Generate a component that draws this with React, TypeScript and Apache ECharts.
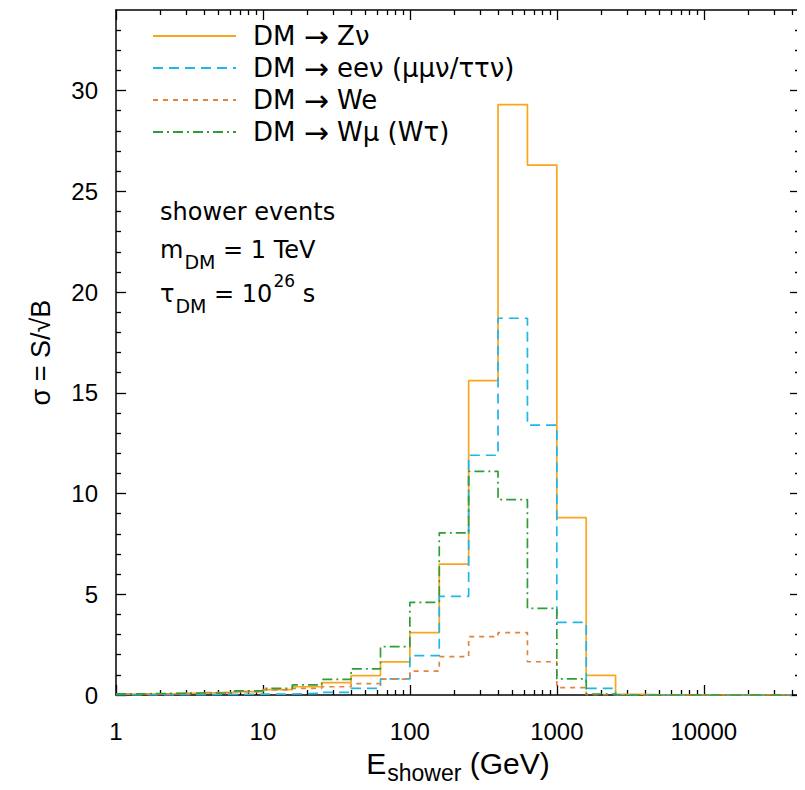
import React, { useEffect, useRef } from "react";
import * as echarts from "echarts";

// log10(E / GeV) bin edges of the histogram
const binLogEdges = [0, 0.2, 0.4, 0.6, 0.8, 1.0, 1.2, 1.4, 1.6, 1.8, 2.0, 2.2, 2.4, 2.6, 2.8, 3.0, 3.2, 3.4, 3.6, 3.8, 4.0, 4.2, 4.4, 4.6];

const seriesNames = ["DM → Zν", "DM → eeν (μμν/ττν)", "DM → We", "DM → Wμ (Wτ)"];

// sigma = S/sqrt(B) per bin
const zNu = [0.05, 0.07, 0.1, 0.13, 0.17, 0.27, 0.41, 0.61, 0.96, 1.64, 3.1, 6.5, 15.6, 29.3, 26.3, 8.8, 0.97, 0.03, 0, 0, 0, 0, 0];
const eeNu = [0.01, 0.01, 0.02, 0.03, 0.04, 0.05, 0.08, 0.13, 0.33, 0.8, 1.95, 4.9, 11.9, 18.7, 13.4, 3.6, 0.33, 0.01, 0, 0, 0, 0, 0];
const wE = [0.04, 0.06, 0.08, 0.12, 0.17, 0.25, 0.33, 0.41, 0.56, 0.79, 1.19, 1.9, 2.9, 3.1, 1.65, 0.37, 0.02, 0, 0, 0, 0, 0, 0];
const wMu = [0.06, 0.08, 0.1, 0.1, 0.2, 0.33, 0.5, 0.78, 1.3, 2.4, 4.6, 8.05, 11.1, 9.7, 4.3, 0.8, 0.05, 0, 0, 0, 0, 0, 0];

const xMajorLog = [0, 1, 2, 3, 4];
const xTickLabels = ["1", "10", "100", "1000", "10000"];
const xMinorEnergies = [
  2, 3, 4, 5, 6, 7, 8, 9,
  20, 30, 40, 50, 60, 70, 80, 90,
  200, 300, 400, 500, 600, 700, 800, 900,
  2000, 3000, 4000, 5000, 6000, 7000, 8000, 9000,
  20000, 30000, 40000,
];
const yMajor = [0, 5, 10, 15, 20, 25, 30];
const yMinor = [1, 2, 3, 4, 6, 7, 8, 9, 11, 12, 13, 14, 16, 17, 18, 19, 21, 22, 23, 24, 26, 27, 28, 29, 31, 32, 33];

const X_MAX_LOG = 4.655;
const Y_MAX = 34;
const FONT = "Liberation Sans";
const WIDE = "DejaVu Sans";

function histPoints(values: number[]) {
  const pts: number[][] = [];
  values.forEach((v, i) => {
    pts.push([binLogEdges[i], v]);
    pts.push([binLogEdges[i + 1], v]);
  });
  return pts;
}

export default function App() {
  const ref = useRef<HTMLDivElement>(null);
  useEffect(() => {
    if (!ref.current) return;
    const chart = echarts.init(ref.current, null, { renderer: "svg" });
    const axisLineStyle = { color: "#000", width: 1.5 };
    const xBase = {
      type: "value",
      min: 0,
      max: X_MAX_LOG,
      splitLine: { show: false },
      axisLine: { show: false, onZero: false },
      axisLabel: { show: false },
    };
    const yBase = {
      type: "value",
      min: 0,
      max: Y_MAX,
      splitLine: { show: false },
      axisLine: { show: false, onZero: false },
      axisLabel: { show: false },
    };
    const majorTick = (vals: number[]) => ({ show: true, inside: true, length: 10, customValues: vals, lineStyle: { color: "#000", width: 1.3 } });
    const minorTick = (vals: number[]) => ({ show: true, inside: true, length: 5, customValues: vals, lineStyle: { color: "#000", width: 1.3 } });
    const xMinorLog = xMinorEnergies.map((e) => Math.log10(e));

    const rich = {
      n: { fontSize: 24, fontFamily: WIDE, color: "#000", verticalAlign: "top", padding: [10, 0, 0, 0] },
      sub: { fontSize: 19, fontFamily: WIDE, color: "#000", verticalAlign: "top", padding: [24, 0, 0, 1] },
      sup: { fontSize: 17, fontFamily: WIDE, color: "#000", verticalAlign: "top", padding: [0, 0, 0, 1] },
    };

    const colors = ["#f9a61c", "#1fb6ea", "#e3843c", "#2f9e38"];
    const dashes: any[] = ["solid", [10, 6], [5, 5], [10, 4, 2, 4]];
    const allValues = [zNu, eeNu, wE, wMu];

    chart.setOption({
      animation: false,
      backgroundColor: "#fff",
      textStyle: { fontFamily: FONT },
      grid: { left: 116, right: 5, top: 10, bottom: 95, containLabel: false },
      xAxis: [
        {
          ...xBase,
          position: "bottom",
          axisLine: { show: true, onZero: false, lineStyle: axisLineStyle },
          axisTick: majorTick(xMajorLog),
          axisLabel: {
            show: true,
            customValues: xMajorLog,
            formatter: (v: number) => xTickLabels[xMajorLog.indexOf(Math.round(v))] ?? "",
            fontSize: 24,
            color: "#000",
            fontFamily: FONT,
            margin: 24,
          },
          name: "{n|E}{sub|shower}{n| (GeV)}",
          nameLocation: "middle",
          nameGap: 53,
          nameTextStyle: {
            rich: {
              n: { fontSize: 30, fontFamily: FONT, color: "#000", verticalAlign: "top", padding: [0, 0, 0, 0] },
              sub: { fontSize: 23, fontFamily: FONT, color: "#000", verticalAlign: "top", padding: [13, 0, 0, 1] },
            },
          },
        },
        { ...xBase, position: "bottom", axisTick: minorTick(xMinorLog) },
        { ...xBase, position: "top", axisLine: { show: true, onZero: false, lineStyle: axisLineStyle }, axisTick: majorTick(xMajorLog) },
        { ...xBase, position: "top", axisTick: minorTick(xMinorLog) },
      ],
      yAxis: [
        {
          ...yBase,
          position: "left",
          axisLine: { show: true, onZero: false, lineStyle: axisLineStyle },
          axisTick: majorTick(yMajor),
          axisLabel: { show: true, customValues: yMajor, fontSize: 24, color: "#000", fontFamily: FONT, margin: 18 },
          name: "σ = S/√B",
          nameLocation: "middle",
          nameRotate: 90,
          nameGap: 62,
          nameTextStyle: { fontSize: 27, color: "#000", fontFamily: FONT },
        },
        { ...yBase, position: "left", axisTick: minorTick(yMinor) },
        { ...yBase, position: "right", axisLine: { show: true, onZero: false, lineStyle: axisLineStyle }, axisTick: majorTick(yMajor) },
        { ...yBase, position: "right", axisTick: minorTick(yMinor) },
      ],
      legend: {
        orient: "vertical",
        left: 152,
        top: 21,
        padding: 0,
        itemWidth: 83,
        itemHeight: 14,
        itemGap: 2,
        selectedMode: false,
        data: seriesNames,
        itemStyle: { opacity: 0 },
        formatter: (name: string) => name.replace("→", "{a|→}"),
        textStyle: {
          fontSize: 26,
          fontFamily: WIDE,
          color: "#000",
          padding: [0, 0, 0, 12],
          rich: { a: { fontFamily: WIDE, fontSize: 30, color: "#000" } },
        },
      },
      graphic: [
        { type: "text", left: 160, top: 200, style: { text: "shower events", font: `24px '${WIDE}'`, fill: "#000" } },
        { type: "text", left: 160, top: 238, style: { text: "{n|m}{sub|DM}{n| = 1 TeV}", rich, fill: "#000" } },
        { type: "text", left: 160, top: 272, style: { text: "{n|τ}{sub|DM}{n| = 10}{sup|26}{n| s}", rich, fill: "#000" } },
      ],
      series: allValues.map((vals, i) => ({
        name: seriesNames[i],
        type: "line",
        xAxisIndex: 0,
        yAxisIndex: 0,
        symbol: "none",
        showSymbol: false,
        data: histPoints(vals),
        itemStyle: { color: colors[i] },
        lineStyle: { color: colors[i], width: 1.7, type: dashes[i] },
        z: 2 + i,
      })),
    });
    return () => chart.dispose();
  }, []);
  return <div ref={ref} style={{ width: 805, height: 790, margin: -8 }} />;
}
